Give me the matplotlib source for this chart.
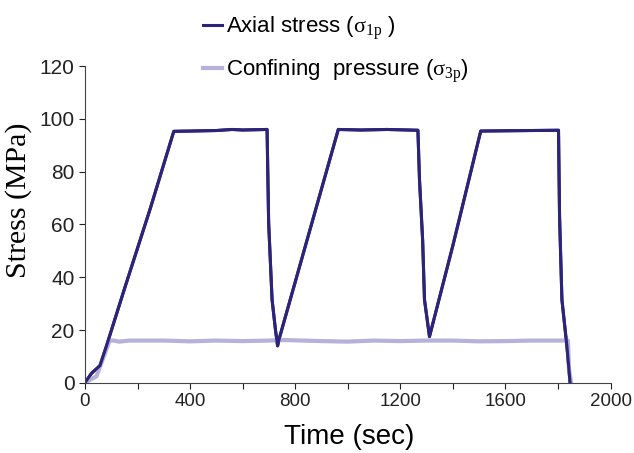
import numpy as np
import matplotlib
matplotlib.use("Agg")
from matplotlib import pyplot as plt

plt.rcParams['font.family'] = ['Liberation Sans', 'DejaVu Sans']
plt.rcParams['mathtext.fontset'] = 'custom'
plt.rcParams['mathtext.rm'] = 'Liberation Serif'
plt.rcParams['mathtext.it'] = 'Liberation Serif'

# axial stress (sigma_1p)
t_axial = [0, 25, 57, 82, 150, 250, 338, 400, 500, 560, 600, 693, 699, 706, 712,
           725, 733, 740, 850, 964, 1050, 1150, 1267, 1273, 1285, 1292, 1311,
           1400, 1506, 1600, 1700, 1802, 1806, 1815, 1834, 1846]
s_axial = [0, 3.6, 6.5, 14, 35.5, 66.5, 95.3, 95.4, 95.6, 96.0, 95.8, 96.0, 60.6, 45, 31.5,
           20, 14, 17, 55.8, 96.0, 95.8, 96.0, 95.7, 77, 54, 31.5, 17.5,
           52, 95.4, 95.5, 95.6, 95.7, 63, 31.5, 13.8, 0]

# confining pressure (sigma_3p)
t_conf = [0, 44, 94, 110, 130, 150, 170, 300, 400, 500, 600, 700, 760, 900, 1000,
          1100, 1200, 1300, 1400, 1500, 1600, 1700, 1800, 1838, 1842, 1850]
s_conf = [0, 2.5, 16, 16, 15.6, 15.8, 16, 16, 15.7, 16, 15.8, 16, 16.2, 15.8, 15.6,
          16, 15.8, 16, 16, 15.7, 15.8, 16, 16, 16, 5, 0]

x_ticks = list(range(0, 2001, 200))
x_labels = [str(v) if v % 400 == 0 else '' for v in x_ticks]
y_ticks = list(range(0, 121, 20))

fig = plt.figure(figsize=(6.34, 4.53), dpi=100)
ax = fig.add_axes([0.134, 0.155, 0.829, 0.699])

l1, = ax.plot(t_axial, s_axial, color='#2b2479', lw=2.2)
l2, = ax.plot(t_conf, s_conf, color='#b5b1da', lw=3)
ax.plot(t_axial, s_axial, color='#2b2479', lw=2.2)

ax.set_xlim(0, 2000)
ax.set_ylim(0, 120)
ax.set_xticks(x_ticks)
ax.set_xticklabels(x_labels)
ax.set_yticks(y_ticks)
ax.tick_params(direction='out', length=4, colors='#222222')
ax.tick_params(axis='x', labelsize=13.5)
ax.tick_params(axis='y', labelsize=15)
for s in ['top', 'right']:
    ax.spines[s].set_visible(False)
for s in ['left', 'bottom']:
    ax.spines[s].set_color('#444444')

ax.set_xlabel('Time (sec)', fontsize=20)
ax.xaxis.set_label_coords(0.503, -0.13)
ax.set_ylabel('Stress (MPa)', fontsize=21.5, family='Liberation Serif')
ax.yaxis.set_label_coords(-0.1, 0.577)

fig.legend([l1, l2], [r'Axial stress ($\mathrm{\sigma_{1p}}$ )',
                      r'Confining  pressure ($\mathrm{\sigma_{3p}}$)'],
           loc='upper left', bbox_to_anchor=(0.297, 1.0), frameon=False,
           fontsize=16, handlelength=0.85, handletextpad=0.2, labelspacing=0.68,
           borderaxespad=0.25)

fig.savefig('out.png', dpi=100)
